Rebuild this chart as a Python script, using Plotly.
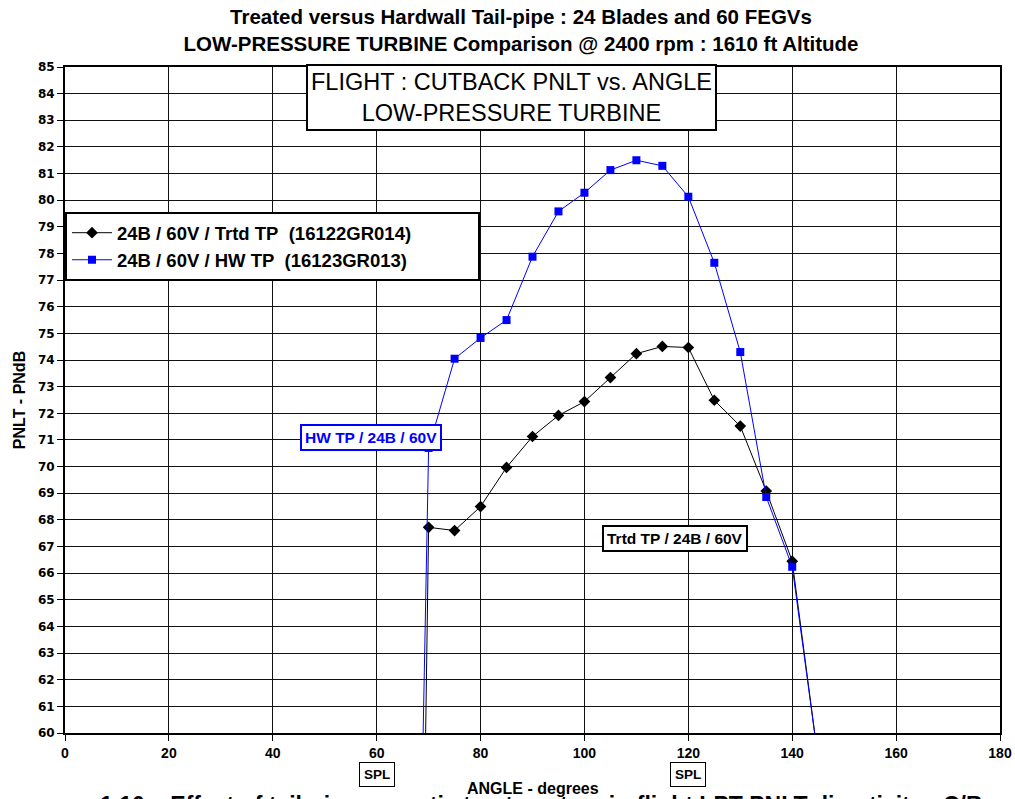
import plotly.graph_objects as go

# angles (degrees) and PNLT values (PNdB)
angle = [65, 70, 75, 80, 85, 90, 95, 100, 105, 110, 115, 120, 125, 130, 135, 140, 145]
pnlt_treated = [0.0, 67.72, 67.6, 68.5, 69.97, 71.13, 71.92, 72.44, 73.34, 74.24,
                74.51, 74.47, 72.49, 71.52, 69.08, 66.45, 59.0]
pnlt_hardwall = [20.0, 70.7, 74.05, 74.83, 75.5, 77.88, 79.58, 80.28, 81.13, 81.5,
                 81.29, 80.13, 77.65, 74.3, 68.86, 66.24, 59.0]

NB = "\u00a0"
name_treated = "24B / 60V / Trtd TP" + NB * 2 + "(16122GR014)" + NB * 12
name_hardwall = "24B / 60V / HW TP" + NB * 2 + "(16123GR013)"

x_ticks = list(range(0, 181, 20))
y_ticks = list(range(60, 86))

FONT = "Liberation Sans, Arial, sans-serif"
WIDE = "DejaVu Sans, Verdana, sans-serif"

W, H = 1015, 799

fig = go.Figure()

fig.add_trace(go.Scatter(
    x=angle, y=pnlt_treated, name=name_treated, mode="lines+markers",
    line=dict(color="black", width=1),
    marker=dict(symbol="diamond", size=9, color="black"),
))
fig.add_trace(go.Scatter(
    x=angle, y=pnlt_hardwall, name=name_hardwall, mode="lines+markers",
    line=dict(color="#0000ff", width=1),
    marker=dict(symbol="square", size=8, color="#0000ff"),
))

axis_common = dict(
    showgrid=True, gridcolor="#111111", gridwidth=1.3,
    showline=True, linecolor="black", linewidth=2, mirror=True,
    ticks="outside", ticklen=6, tickcolor="black", tickwidth=1,
    zeroline=False, automargin=False,
)

fig.update_xaxes(range=[0, 180], tickvals=x_ticks,
                 tickfont=dict(family=FONT, size=14, color="black", weight="bold"),
                 **axis_common)
fig.update_yaxes(range=[60, 85], tickvals=y_ticks,
                 tickfont=dict(family=WIDE, size=12, color="black", weight="bold"),
                 title=dict(text="<b>PNLT - PNdB</b>", standoff=8,
                            font=dict(family=FONT, size=16, color="black")),
                 **axis_common)

annotations = [
    # x axis title
    dict(text="<b>ANGLE - degrees</b>", xref="paper", yref="paper", x=0.5, y=-0.068,
         xanchor="center", yanchor="top", showarrow=False,
         font=dict(family=FONT, size=16, color="black")),
    # boxed headline inside the plot
    dict(text="FLIGHT : CUTBACK PNLT vs. ANGLE<br>LOW-PRESSURE TURBINE", xref="x", yref="paper",
         x=85.9, y=1.004, xanchor="center", yanchor="top", showarrow=False,
         font=dict(family=FONT, size=23.5, color="black"), bgcolor="white",
         bordercolor="black", borderwidth=2, borderpad=3),
    dict(text="<b>HW TP / 24B / 60V</b>", x=58.9, y=71.1, xref="x", yref="y",
         showarrow=False, font=dict(family=FONT, size=15.5, color="#0000ff"),
         bgcolor="white", bordercolor="#0000ff", borderwidth=2, borderpad=3),
    dict(text="<b>Trtd TP / 24B / 60V</b>", x=117.4, y=67.3, xref="x", yref="y",
         showarrow=False, font=dict(family=FONT, size=15.5, color="black"),
         bgcolor="white", bordercolor="black", borderwidth=2, borderpad=3),
    # caption cut off at the bottom of the picture
    dict(text="1.10" + NB * 4 + "Effect of tail-pipe acoustic treatment on in-flight LPT PNLT directivity - C/B",
         xref="paper", yref="paper", x=0.035, y=-0.085, xanchor="left", yanchor="top",
         showarrow=False, font=dict(family=FONT, size=23, color="black", weight="bold")),
]
for spl_angle in [60, 120]:
    annotations.append(dict(text="<b>SPL</b>", x=spl_angle, xref="x", yref="paper", y=-0.044,
                            xanchor="center", yanchor="top", showarrow=False,
                            font=dict(family=FONT, size=13.5, color="black"),
                            bordercolor="black", borderwidth=1, borderpad=4, bgcolor="white"))

fig.update_layout(
    width=W, height=H,
    margin=dict(l=65, r=15, t=67, b=66),
    paper_bgcolor="white", plot_bgcolor="white",
    title=dict(text="<b>Treated versus Hardwall Tail-pipe : 24 Blades and 60 FEGVs<br>"
                    "LOW-PRESSURE TURBINE Comparison @ 2400 rpm : 1610 ft Altitude</b>",
               x=521 / W, xref="container", xanchor="center", y=1 - 24 / H, yref="container",
               yanchor="top", automargin=False,
               font=dict(family=FONT, size=20.5, color="black")),
    legend=dict(x=0.0, y=0.782, xanchor="left", yanchor="top",
                bgcolor="white", bordercolor="black", borderwidth=2,
                font=dict(family=FONT, size=18.5, color="black", weight="bold"),
                tracegroupgap=0, itemwidth=40),
    showlegend=True,
    annotations=annotations,
)

# drop the default page margin so the figure fills the window exactly
fig.write_html("out.html", config={"displayModeBar": False},
               post_script="document.body.style.margin='0';document.body.style.overflow='hidden';")
